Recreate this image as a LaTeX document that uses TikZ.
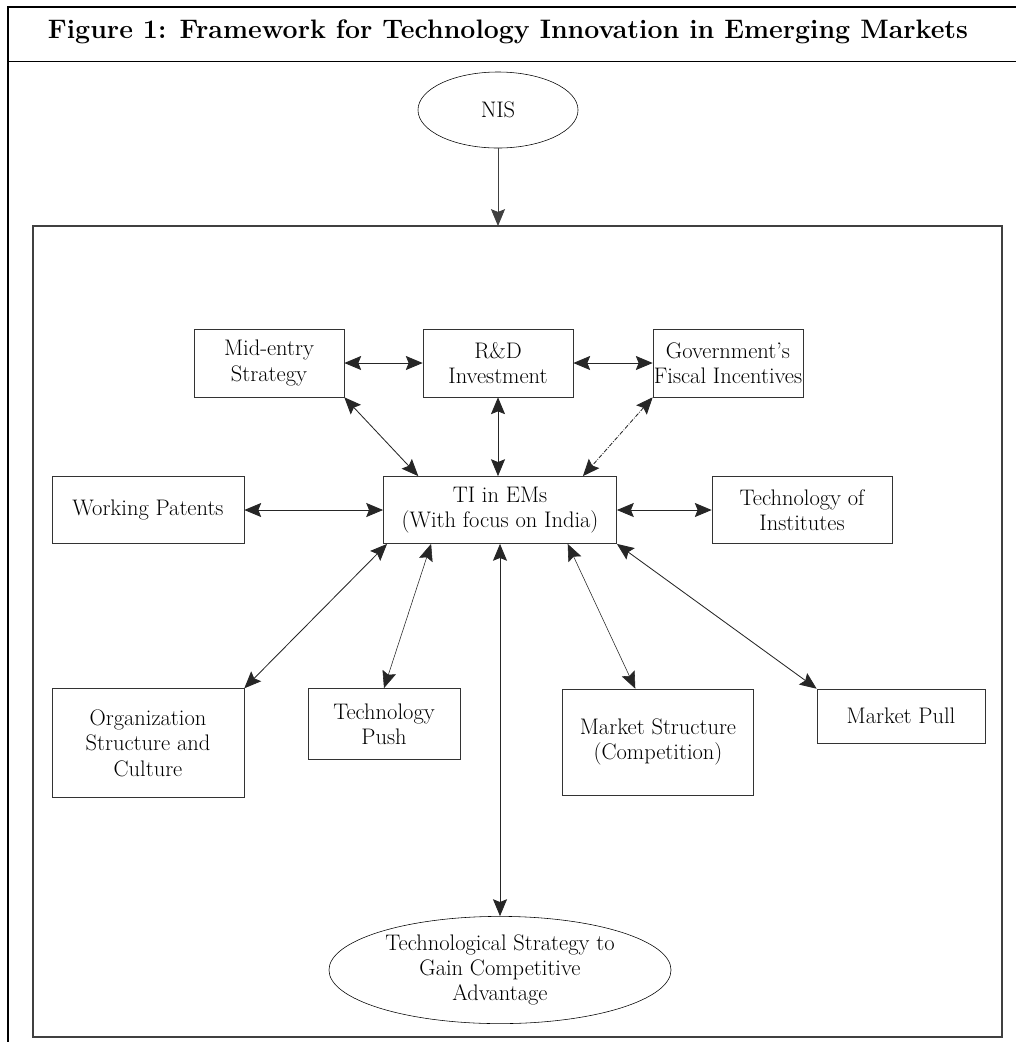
\documentclass[tikz,border=0pt]{standalone}
\usepackage{tikz}
\usetikzlibrary{arrows.meta}
\usetikzlibrary{shapes.geometric}
\tikzset{
    tnode/.style = {align=center, inner sep=0pt, text centered, font=\fontsize{16}{18}\selectfont},
    box/.style = {tnode, rectangle, draw=black!80, thin},
    oval/.style = {tnode, ellipse, draw=black, thin},
    link/.style = {{Stealth[length=12pt,width=10pt,inset=2pt]}-{Stealth[length=12pt,width=10pt,inset=2pt]}, draw=black!85, semithick},
    onelink/.style = {-{Stealth[length=12pt,width=10pt,inset=2pt]}, draw=black!75, semithick}
}

\begin{document}
\begin{tikzpicture}
            [x=0.025cm, y=-0.025cm]

            \useasboundingbox (0,0) rectangle (1016,1042);

            % outer frame and title
            \draw [thick] (1016,7) -- (8,7) -- (8,1042);
            \draw (8,61) -- (1016,61);
            \node [font=\bfseries\fontsize{19}{22}\selectfont] (title) at (508,32)
                {Figure 1: Framework for Technology Innovation in Emerging Markets};

            % inner frame
            \draw [thick, draw=black!75] (33,226) rectangle (1002,1037);
            \coordinate (innertop) at (498,226);

            \node [oval, minimum width=4cm, minimum height=1.9cm] (nis) at (498,110) {NIS};

            % top row
            \node [box, minimum width=3.75cm, minimum height=1.7cm] (mid) at (269,363) {Mid-entry\\Strategy};
            \node [box, minimum width=3.75cm, minimum height=1.7cm] (rd) at (498,363) {R\&D\\Investment};
            \node [box, minimum width=3.75cm, minimum height=1.7cm] (gov) at (728,363) {Government's\\Fiscal Incentives};

            % middle row
            \node [box, minimum width=5.83cm, minimum height=1.68cm] (ti) at (500,510) {TI in EMs\\(With focus on India)};
            \node [box, minimum width=4.8cm, minimum height=1.68cm] (wp) at (148,510) {Working Patents};
            \node [box, minimum width=4.5cm, minimum height=1.68cm] (inst) at (802,510) {Technology of\\Institutes};

            % bottom row
            \node [box, minimum width=4.8cm, minimum height=2.72cm] (org) at (148,743) {Organization\\Structure and\\Culture};
            \node [box, minimum width=3.8cm, minimum height=1.78cm] (push) at (384,724) {Technology\\Push};
            \node [box, minimum width=4.78cm, minimum height=2.65cm] (ms) at (658,742) {Market Structure\\(Competition)};
            \node [box, minimum width=4.2cm, minimum height=1.35cm] (pull) at (901,716) {Market Pull};

            \node [oval, minimum width=8.55cm, minimum height=2.68cm] (tsa) at (500,970)
                {Technological Strategy to\\Gain Competitive\\Advantage};

            % links
            \draw [onelink] (nis.south) -- (nis.south |- innertop);
            \draw [link] (mid.east) -- (rd.west);
            \draw [link] (rd.east) -- (gov.west);
            \draw [link] (mid.south east) -- ([xshift=0.88cm]ti.north west);
            \draw [link] (rd.south) -- (rd.south |- ti.north);
            \draw [link, densely dashdotted] (gov.south west) -- ([xshift=-0.85cm]ti.north east);
            \draw [link] (wp.east) -- (ti.west);
            \draw [link] (ti.east) -- (inst.west);
            \draw [link] (org.north east) -- ([xshift=0.1cm]ti.south west);
            \draw [link, thin] (push.north) -- ([xshift=1.2cm]ti.south west);
            \draw [link, thin] ([xshift=1.83cm]ms.north west) -- ([xshift=-1.23cm]ti.south east);
            \draw [link] (pull.north west) -- (ti.south east);
            \draw [link] (ti.south) -- (tsa.north);
        \end{tikzpicture}
\end{document}
